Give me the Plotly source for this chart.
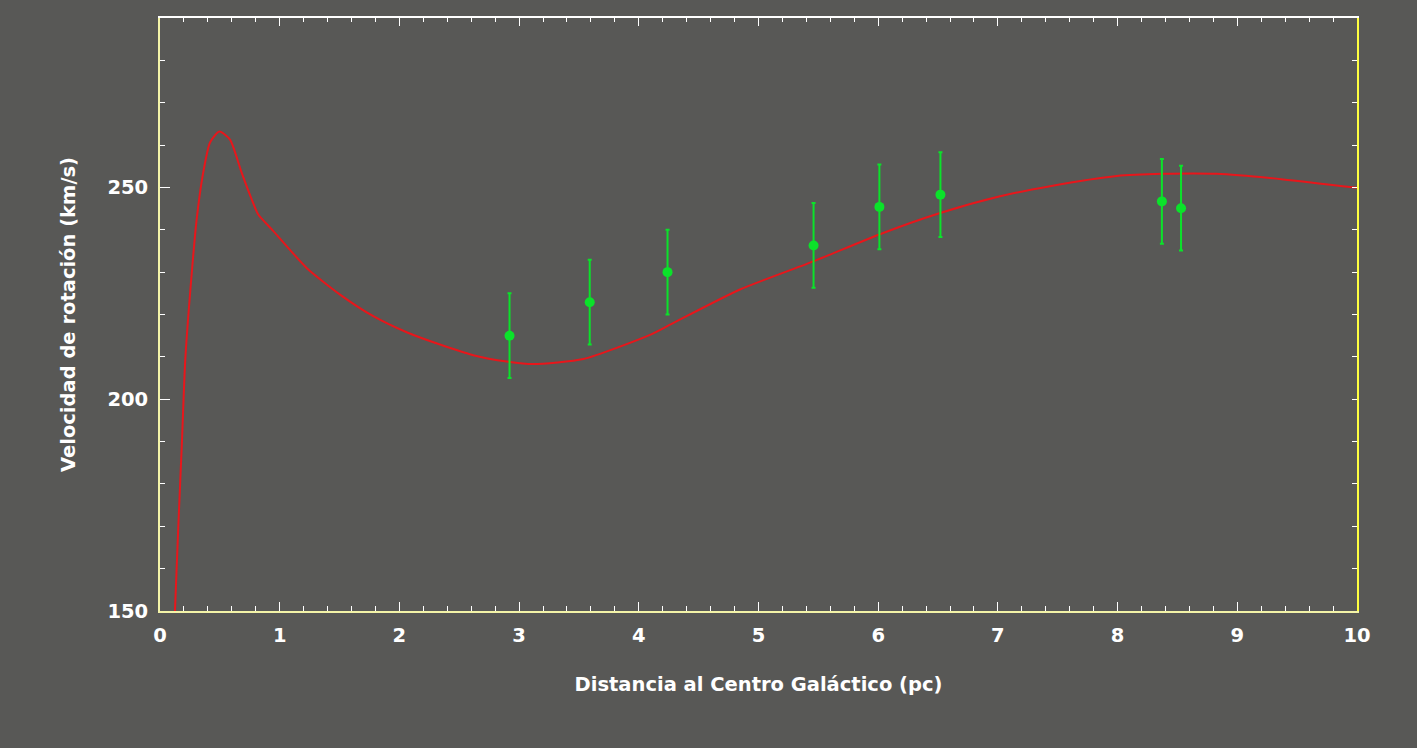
import plotly.graph_objects as go

# Observed rotation velocities (km/s) vs galactocentric distance
obs_r = [2.92, 3.59, 4.24, 5.46, 6.01, 6.52, 8.37, 8.53]
obs_v = [215.0, 222.9, 230.0, 236.3, 245.4, 248.3, 246.7, 245.1]
obs_err = [10, 10, 10, 10, 10, 10, 10, 10]

# Model rotation curve
model_r = [0.125, 0.153, 0.184, 0.211, 0.270, 0.306, 0.356, 0.418, 0.496, 0.585,
           0.682, 0.766, 0.821, 0.947, 1.225, 1.504, 1.782, 2.061, 2.339, 2.617,
           2.896, 3.119, 3.537, 4.094, 4.261, 4.845, 5.464, 6.009, 6.511, 7.018,
           7.435, 7.993, 8.374, 8.828, 9.384, 10.0]
model_v = [150.0, 170.0, 190.4, 209.3, 231.4, 242.4, 252.7, 260.6, 263.2, 261.3,
           253.5, 247.2, 243.6, 239.7, 231.0, 224.7, 219.6, 215.8, 212.9, 210.4,
           208.9, 208.3, 209.5, 215.2, 217.6, 225.9, 232.6, 238.9, 243.9, 247.9,
           250.3, 252.7, 253.2, 253.2, 251.9, 249.9]

x_ticks = [0, 1, 2, 3, 4, 5, 6, 7, 8, 9, 10]
y_ticks = [150, 200, 250]

BG = "#585856"
FONT = "DejaVu Sans"

fig = go.Figure()

fig.add_trace(go.Scatter(
    x=model_r, y=model_v,
    mode="lines",
    line=dict(color="#e8161b", width=2, shape="spline", smoothing=0.6),
    showlegend=False,
))

fig.add_trace(go.Scatter(
    x=obs_r, y=obs_v,
    mode="markers",
    marker=dict(color="#0be22a", size=10),
    error_y=dict(type="data", array=obs_err, color="#0be22a", thickness=2, width=2),
    showlegend=False,
))

# invisible trace to bring up the mirrored (top / right) axes
fig.add_trace(go.Scatter(x=[0], y=[150], xaxis="x2", yaxis="y2",
                         mode="markers", marker=dict(opacity=0),
                         showlegend=False, hoverinfo="skip"))

tick_font = dict(family=FONT, size=19.5, color="white", weight="bold")
title_font = dict(family=FONT, size=19.5, color="white", weight="bold")

fig.update_layout(
    width=1417, height=748,
    paper_bgcolor=BG, plot_bgcolor=BG,
    margin=dict(l=160, r=60, t=18, b=137),
    xaxis=dict(
        range=[0, 10], tickvals=x_ticks, ticktext=[str(v) for v in x_ticks],
        showgrid=False, zeroline=False,
        showline=True, linecolor="#f4f4a8", linewidth=2,
        ticks="inside", ticklen=9, tickwidth=1, tickcolor="white",
        minor=dict(dtick=0.2, ticks="inside", ticklen=5, tickcolor="white", showgrid=False),
        tickfont=tick_font, ticklabelstandoff=6,
        title=dict(text="Distancia al Centro Galáctico (pc)", standoff=31, font=title_font),
    ),
    yaxis=dict(
        range=[150, 290], tickvals=y_ticks, ticktext=[str(v) for v in y_ticks],
        showgrid=False, zeroline=False,
        showline=True, linecolor="#f4f4a8", linewidth=2,
        ticks="inside", ticklen=10, tickwidth=1, tickcolor="white",
        minor=dict(dtick=10, ticks="inside", ticklen=5, tickcolor="white", showgrid=False),
        tickfont=tick_font, ticklabelstandoff=6,
        title=dict(text="Velocidad de rotación (km/s)", standoff=27, font=title_font),
    ),
    xaxis2=dict(
        overlaying="x", matches="x", side="top", showticklabels=False,
        showgrid=False, zeroline=False,
        showline=True, linecolor="white", linewidth=2,
        tickvals=x_ticks, ticks="inside", ticklen=8, tickcolor="white",
        minor=dict(dtick=0.2, ticks="inside", ticklen=4, tickcolor="white", showgrid=False),
    ),
    yaxis2=dict(
        overlaying="y", matches="y", side="right", showticklabels=False,
        showgrid=False, zeroline=False,
        showline=True, linecolor="#ffff40", linewidth=2,
        tickvals=y_ticks, ticks="inside", ticklen=5, tickcolor="white",
        minor=dict(dtick=10, ticks="inside", ticklen=5, tickcolor="white", showgrid=False),
    ),
)

fig.write_html("out.html",
               config={"displayModeBar": False},
               post_script="document.body.style.margin='0';"
                           "document.body.style.background='#585856';")
